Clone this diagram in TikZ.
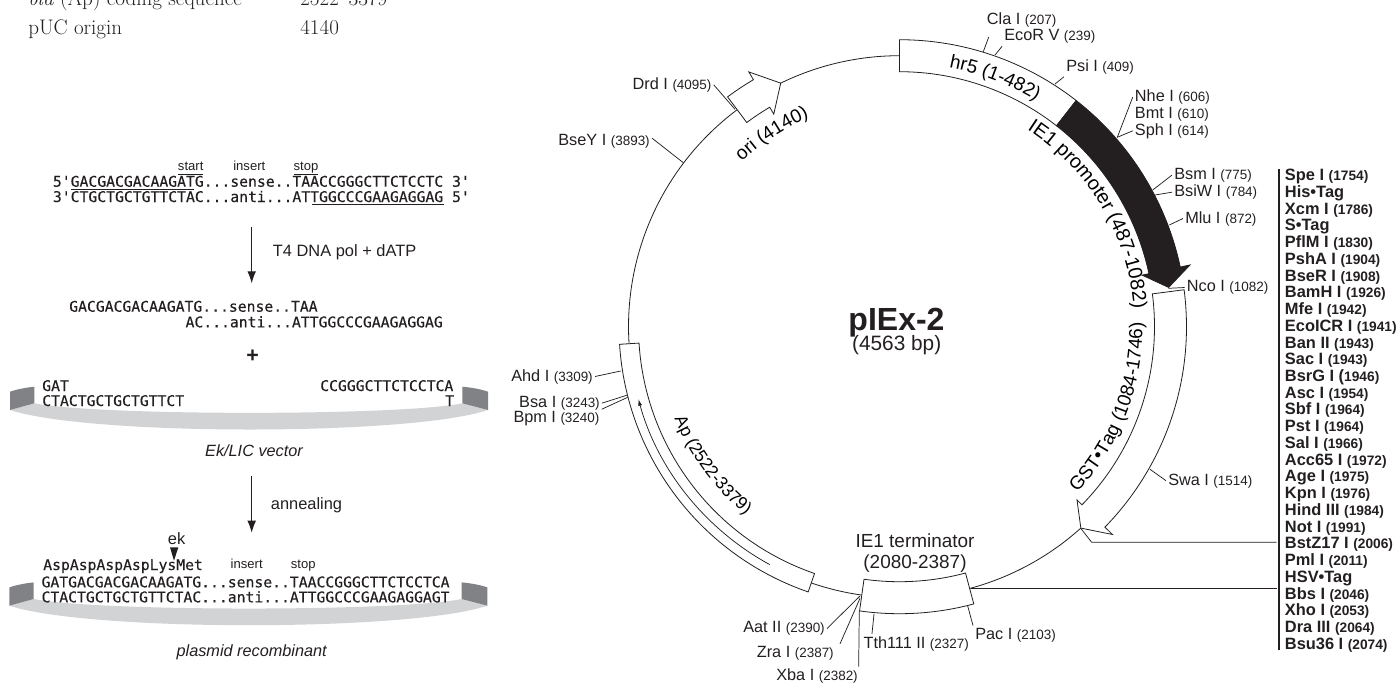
\documentclass[tikz,border=0pt]{standalone}
\usepackage{fontspec}
\setsansfont{Liberation Sans}
\setmonofont[FakeBold=0.25]{DejaVu Sans Mono}
\usetikzlibrary{positioning, arrows.meta, decorations.text}
\definecolor{ink}{HTML}{231F20}
\definecolor{vecdark}{HTML}{808285}
\definecolor{veclight}{HTML}{D1D3D4}
\newcommand{\sitepos}[1]{{\fontsize{10.1}{10}\selectfont #1}}
\newcommand{\listpos}[1]{{\fontsize{10.3}{12.55}\selectfont #1}}
\newcommand{\bandfont}{\sffamily\fontsize{14.2}{15}\selectfont}
\newcommand{\apfont}{\sffamily\fontsize{13.1}{15}\selectfont}
\newcommand{\promfont}{\sffamily\fontsize{14.8}{15}\selectfont}
\tikzset{
  every node/.style = {font=\sffamily, text=ink},
  sitelab/.style  = {font=\sffamily\fontsize{12.2}{12}\selectfont, inner sep=1.5pt},
  sitelist/.style = {font=\sffamily\bfseries\fontsize{12.3}{12.55}\selectfont, align=left, inner sep=0pt},
  siteln/.style   = {draw=ink, line width=0.55pt},
  listbar/.style  = {draw=ink, line width=1pt},
  bandbox/.style  = {draw=ink, line width=0.6pt, fill=white, line join=miter},
  bandsolid/.style= {draw=ink, line width=0.6pt, fill=ink},
  ring/.style     = {draw=ink, line width=0.6pt},
  bandtext/.style = {decorate, decoration={text along path, text align=center, text={#1}}},
  seqtext/.style  = {font=\ttfamily\fontsize{11.05}{11.05}\selectfont, inner sep=0pt},
  seqnote/.style  = {font=\sffamily\fontsize{9.8}{10}\selectfont, inner sep=0pt},
  seqline/.style  = {draw=ink, line width=0.6pt},
  steplab/.style  = {font=\sffamily\fontsize{12.3}{12.3}\selectfont, inner sep=0pt},
  stepgo/.style   = {-{Latex[length=9pt,width=6.5pt]}, draw=ink, line width=0.7pt},
  veccap/.style   = {font=\sffamily\itshape\fontsize{12.2}{12.2}\selectfont, inner sep=0pt},
  tabtext/.style  = {font=\rmfamily\fontsize{15.8}{15.8}\selectfont, inner sep=0pt},
  vecband/.pic    = {
    \fill[veclight] (10,410) .. controls (90,436) and (410,436) .. (488,410)
      -- (462.3,403.3) .. controls (400,416) and (100,416) .. (34.3,403.3) -- cycle;
    \fill[vecdark] (10,391.7) .. controls (16,389.5) and (26,387.5) .. (34.3,386.7)
      -- (34.3,403.3) -- (10,410) -- cycle;
    \fill[vecdark] (488,391.7) .. controls (482,389.5) and (472,387.5) .. (462.3,386.7)
      -- (462.3,403.3) -- (488,410) -- cycle;
  },
}
\begin{document}
\begin{tikzpicture}[x=0.75pt, y=-0.75pt]
\clip (0,0) rectangle (1396,683);
\useasboundingbox (0,0) rectangle (1396,683);

% feature table, cut by the page
\node[tabtext, anchor=base west] (tabbla) at (28,5) {\textit{bla} (Ap) coding sequence};
\node[tabtext, anchor=base west] (tabblapos) at (300,5) {2522--3379};
\node[tabtext, anchor=base west] (tabori) at (28,34) {pUC origin};
\node[tabtext, anchor=base west] (taboripos) at (300,34) {4140};

% LIC insert
\node[seqnote, anchor=base] (nstart) at (190.7,170.7) {start};
\node[seqnote, anchor=base] (ninsert) at (249.3,170.7) {insert};
\node[seqnote, anchor=base] (nstop) at (306,170.7) {stop};
\draw[seqline] (178.3,174) -- (202.7,174);
\draw[seqline] (294,174) -- (318.3,174);
\node[seqtext, anchor=base west] (prima) at (52.7,186.7) {5'GACGACGACAAGATG...sense..TAACCGGGCTTCTCCTC 3'};
\node[seqtext, anchor=base west] (primb) at (52.7,202) {3'CTGCTGCTGTTCTAC...anti...ATTGGCCCGAAGAGGAG 5'};
\draw[seqline] (71,189) -- (194.3,189);
\draw[seqline] (311.7,204.7) -- (444.3,204.7);

\coordinate (polfrom) at (251.7,226.7);
\coordinate (polto) at (251.7,283.3);
\draw[stepgo] (polfrom) -- (polto);
\node[steplab, anchor=base west] (pollab) at (272.7,256.7) {T4 DNA pol + dATP};

\node[seqtext, anchor=base west] (hanga) at (69,311.7) {GACGACGACAAGATG...sense..TAA};
\node[seqtext, anchor=base west] (hangb) at (185.3,327.3) {AC...anti...ATTGGCCCGAAGAGGAG};
\node[font=\sffamily\bfseries\fontsize{16}{16}\selectfont, inner sep=0pt] (plus) at (252.7,356.7) {+};

% vector
\pic {vecband};
\node[seqtext, anchor=base west] (veca) at (42,391) {GAT};
\node[seqtext, anchor=base west] (vecb) at (320,391) {CCGGGCTTCTCCTCA};
\node[seqtext, anchor=base west] (vecc) at (42,406) {CTACTGCTGCTGTTCT};
\node[seqtext, anchor=base west] (vecd) at (445,406) {T};
\node[veccap, anchor=base] (veclab) at (254,456) {Ek/LIC vector};

\coordinate (annfrom) at (251.7,476);
\coordinate (annto) at (251.7,532.7);
\draw[stepgo] (annfrom) -- (annto);
\node[steplab, anchor=base west] (annlab) at (270.7,509) {annealing};

% recombinant
\pic[shift={(-0.7,195.7)}] {vecband};
\node[steplab, anchor=base west] (eklab) at (167.7,544) {ek};
\fill[ink] (170,547.3) -- (178.3,547.3) -- (174,560.7) -- cycle;
\node[seqtext, anchor=base west] (reca) at (43,570) {AspAspAspAspLysMet};
\node[seqnote, anchor=base] (rinsert) at (246.7,568.3) {insert};
\node[seqnote, anchor=base] (rstop) at (303.3,568.3) {stop};
\node[seqtext, anchor=base west] (recb) at (41.3,587.3) {GATGACGACGACAAGATG...sense..TAACCGGGCTTCTCCTCA};
\node[seqtext, anchor=base west] (recc) at (41.3,602.3) {CTACTGCTGCTGTTCTAC...anti...ATTGGCCCGAAGAGGAGT};
\node[veccap, anchor=base] (reclab) at (251.7,656) {plasmid recombinant};

% plasmid ring, angles from the centre
\begin{scope}[shift={(899.5,326.7)}, x=0.75pt, y=0.75pt]
  \draw[ring] (90:271) arc[start angle=90, end angle=116, radius=271];
  \draw[ring] (126.8:271) arc[start angle=126.8, end angle=183.6, radius=271];
  \draw[ring] (251:271) arc[start angle=251, end angle=262, radius=271];
  \draw[ring] (-75:271) arc[start angle=-75, end angle=-48, radius=271];
  % hr5
  \draw[bandbox] (90:255) arc[start angle=90, end angle=52, radius=255]
    -- (52:287) arc[start angle=52, end angle=90, radius=287] -- cycle;
  \path[bandtext={|\bandfont|hr5 (1-482)}] (89:264) arc[start angle=89, end angle=49, radius=264];
  % IE1 promoter
  \draw[bandsolid] (52:255) arc[start angle=52, end angle=12, radius=255]
    -- (12:248) -- (8.3:272) -- (12:297) -- (12:287)
    arc[start angle=12, end angle=52, radius=287] -- cycle;
  \path[bandtext={|\promfont|IE1 promoter (487-1082)}] (59:235) arc[start angle=59, end angle=2.5, radius=235];
  % GST arrow
  \draw[bandbox] (7.4:255) arc[start angle=7.4, end angle=-44.3, radius=255]
    -- (-44.3:248) -- (-48:271) -- (-44.3:297.5) -- (-44.3:287)
    arc[start angle=-44.3, end angle=7.4, radius=287] -- cycle;
  \path[bandtext={|\bandfont|GST•Tag (1084-1746)}] (-44:243) arc[start angle=-44, end angle=2, radius=243];
  % terminator
  \draw[bandbox] (-75:255) arc[start angle=-75, end angle=-98, radius=255]
    -- (-98:287) arc[start angle=-98, end angle=-75, radius=287] -- cycle;
  % Ap
  \draw[bandbox] (251:261) arc[start angle=251, end angle=183.6, radius=261]
    -- (183.6:280.5) arc[start angle=183.6, end angle=251, radius=280.5] -- cycle;
  \draw[siteln, -{Latex[length=5pt,width=3pt]}] (241.4:271) arc[start angle=241.4, end angle=195.5, radius=271];
  \path[bandtext={|\apfont|Ap (2522-3379)}] (197:243) arc[start angle=197, end angle=236, radius=243];
  % ori
  \draw[bandbox] (126.8:255) arc[start angle=126.8, end angle=120.6, radius=255]
    -- (120.6:247) -- (116:271) -- (120.6:296) -- (120.6:287)
    arc[start angle=120.6, end angle=126.8, radius=287] -- cycle;
  \path[bandtext={|\bandfont|ori (4140)}] (135:228) arc[start angle=135, end angle=112, radius=228];
\end{scope}

\node[font=\sffamily\bfseries\fontsize{24}{24}\selectfont, inner sep=0pt, anchor=base] (mapname) at (896.5,330) {pIEx-2};
\node[font=\sffamily\fontsize{15.6}{15.6}\selectfont, inner sep=0pt, anchor=base] (mapsize) at (896.7,350) {(4563 bp)};
\node[font=\sffamily\fontsize{14.2}{15.75}\selectfont, align=center, inner sep=0pt, anchor=south] (termlab) at (915,573) {IE1 terminator\\(2080-2387)};

% sites right of the ring
\node[sitelab, anchor=base west] (cla) at (984.7,24) {Cla I \sitepos{(207)}};
\coordinate (clasite) at (983.3,51.7);
\draw[siteln] (clasite) -- ([xshift=3pt,yshift=-6pt]cla.south west);
\node[sitelab, anchor=base west] (ecor) at (1002,40) {EcoR V \sitepos{(239)}};
\coordinate (ecorsite) at (995,55);
\draw[siteln] (ecorsite) -- ([yshift=-1pt]ecor.south west);
\node[sitelab, anchor=base west] (psi) at (1064,71.7) {Psi I \sitepos{(409)}};
\coordinate (psisite) at (1055,84);
\draw[siteln] (psisite) -- (psi.south west);
\node[sitelab, anchor=base west] (nhe) at (1132.7,101.7) {Nhe I \sitepos{(606)}};
\node[sitelab, anchor=base west] (bmt) at (1132.7,118.3) {Bmt I \sitepos{(610)}};
\node[sitelab, anchor=base west] (sph) at (1132.7,135) {Sph I \sitepos{(614)}};
\coordinate (nhesite) at (1117.3,137.3);
\draw[siteln] (nhesite) -- (nhe.west);
\draw[siteln] (nhesite) -- (sph.west);
\node[sitelab, anchor=base west] (bsm) at (1172,179.3) {Bsm I \sitepos{(775)}};
\node[sitelab, anchor=base west] (bsiw) at (1172,196.7) {BsiW I \sitepos{(784)}};
\coordinate (bsmsite) at (1152.7,190);
\coordinate (bsiwsite) at (1155,195);
\draw[siteln] (bsmsite) -- (bsm.west);
\draw[siteln] (bsiwsite) -- (bsiw.west);
\node[sitelab, anchor=base west] (mlu) at (1183,223) {Mlu I \sitepos{(872)}};
\coordinate (mlusite) at (1169.3,225);
\draw[siteln] (mlusite) -- (mlu.west);
\node[sitelab, anchor=base west] (nco) at (1184.7,291.7) {Nco I \sitepos{(1082)}};
\coordinate (ncosite) at (1168.3,288.3);
\draw[siteln] (ncosite) -- (nco.west);
\node[sitelab, anchor=base west] (swa) at (1166,485) {Swa I \sitepos{(1514)}};
\coordinate (swasite) at (1150,469.3);
\draw[siteln] (swasite) -- (swa.west);

% sites below the ring
\node[sitelab, anchor=base west] (pac) at (973,639) {Pac I \sitepos{(2103)}};
\coordinate (pacsite) at (967.7,606);
\draw[siteln] (pacsite) -- (pac.north west);
\node[sitelab, anchor=base west] (tth) at (861.3,648) {Tth111 II \sitepos{(2327)}};
\coordinate (tthsite) at (874,614);
\draw[siteln] (tthsite) -- ([xshift=8pt]tth.north west);
\node[sitelab, anchor=base east] (aat) at (827,632.7) {Aat II \sitepos{(2390)}};
\coordinate (aatsite) at (860,596);
\draw[siteln] (aatsite) -- (aat.east);
\node[sitelab, anchor=base east] (zra) at (836,657.3) {Zra I \sitepos{(2387)}};
\coordinate (zrasite) at (860,598.3);
\draw[siteln] (zrasite) -- ([xshift=3pt]zra.north east);
\node[sitelab, anchor=base east] (xba) at (860,680.7) {Xba I \sitepos{(2382)}};
\coordinate (xbasite) at (859.3,610.7);
\draw[siteln] (xbasite) -- ([xshift=-1pt]xba.north east);

% sites left of the ring
\node[sitelab, anchor=base east] (ahd) at (595,381) {Ahd I \sitepos{(3309)}};
\coordinate (ahdsite) at (620.7,371);
\draw[siteln] (ahdsite) -- (ahd.east);
\node[sitelab, anchor=base east] (bsa) at (602,407.3) {Bsa I \sitepos{(3243)}};
\coordinate (bsasite) at (626.7,395.3);
\draw[siteln] (bsasite) -- (bsa.east);
\node[sitelab, anchor=base east] (bpm) at (601.7,422.7) {Bpm I \sitepos{(3240)}};
\coordinate (bpmsite) at (627.7,397.3);
\draw[siteln] (bpmsite) -- (bpm.north east);
\node[sitelab, anchor=base east] (bsey) at (652,145) {BseY I \sitepos{(3893)}};
\coordinate (bseysite) at (683.3,162.7);
\draw[siteln] (bseysite) -- ([yshift=2pt]bsey.east);
\node[sitelab, anchor=base east] (drd) at (713.7,89.3) {Drd I \sitepos{(4095)}};
\coordinate (drdsite) at (735,109.3);
\draw[siteln] (drdsite) -- (drd.east);

% site list
\coordinate (bartop) at (1279,169);
\coordinate (barend) at (1279,650);
\draw[listbar] (bartop) -- (barend);
\node[sitelist, anchor=north west] (mcs) at (1284.7,169) {Spe I \listpos{(1754)}\\
His•Tag\\
Xcm I \listpos{(1786)}\\
S•Tag\\
PflM I \listpos{(1830)}\\
PshA I \listpos{(1904)}\\
BseR I \listpos{(1908)}\\
BamH I \listpos{(1926)}\\
Mfe I \listpos{(1942)}\\
EcoICR I \listpos{(1941)}\\
Ban II \listpos{(1943)}\\
Sac I \listpos{(1943)}\\
BsrG I (\listpos{1946)}\\
Asc I \listpos{(1954)}\\
Sbf I \listpos{(1964)}\\
Pst I \listpos{(1964)}\\
Sal I \listpos{(1966)}\\
Acc65 I \listpos{(1972)}\\
Age I \listpos{(1975)}\\
Kpn I \listpos{(1976)}\\
Hind III \listpos{(1984)}\\
Not I \listpos{(1991)}\\
BstZ17 I \listpos{(2006)}\\
Pml I \listpos{(2011)}\\
HSV•Tag\\
Bbs I \listpos{(2046)}\\
Xho I \listpos{(2053)}\\
Dra III \listpos{(2064)}\\
Bsu36 I \listpos{(2074)}};

\coordinate (gsttip) at (1080.7,528.3);
\coordinate (gstbend) at (1091.7,542.3);
\coordinate (gstbar) at (1276.7,542.3);
\draw[siteln] (gsttip) -- (gstbend) -- (gstbar);
\coordinate (termedge) at (970.7,588.3);
\coordinate (termbar) at (1276.7,588.3);
\draw[siteln] (termedge) -- (termbar);
\end{tikzpicture}
\end{document}
